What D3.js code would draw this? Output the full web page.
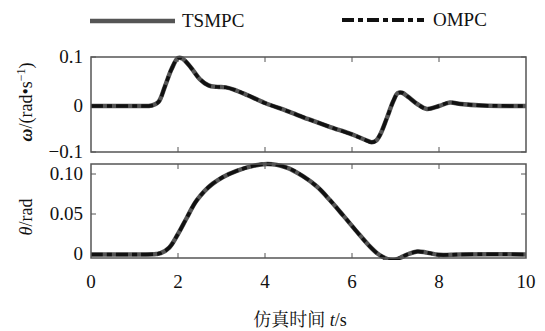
<!DOCTYPE html>
<html>
<head>
<meta charset="utf-8">
<script src="https://cdn.jsdelivr.net/npm/d3@7"></script>
</head>
<body style="margin:0">
<script>
// time axis ticks
var xTicks = [0, 2, 4, 6, 8, 10];

// yaw rate omega (rad/s)
var omegaT = [0, 1.0, 1.4, 1.55, 1.7, 1.85, 2.0, 2.1, 2.3, 2.5, 2.7, 2.9, 3.1, 3.3, 3.6, 4.0, 4.5, 5.0, 5.5, 6.0, 6.3, 6.45, 6.55, 6.65, 6.8, 6.95, 7.05, 7.15, 7.3, 7.5, 7.72, 8.0, 8.25, 8.5, 9.0, 10];
var omegaTSMPC = [0, 0, 0.001, 0.008, 0.04, 0.075, 0.098, 0.097, 0.078, 0.055, 0.042, 0.039, 0.038, 0.033, 0.022, 0.006, -0.01, -0.027, -0.043, -0.058, -0.069, -0.074, -0.071, -0.058, -0.025, 0.01, 0.026, 0.027, 0.018, 0.004, -0.006, 0.0, 0.007, 0.004, 0.001, 0];
var omegaOMPC  = [0, 0, 0.001, 0.008, 0.04, 0.075, 0.098, 0.097, 0.078, 0.055, 0.042, 0.039, 0.038, 0.033, 0.022, 0.006, -0.01, -0.027, -0.043, -0.058, -0.069, -0.074, -0.071, -0.058, -0.025, 0.01, 0.026, 0.027, 0.018, 0.004, -0.006, 0.0, 0.007, 0.004, 0.001, 0];
var omegaTicks = [0.1, 0, -0.1];
var omegaTickLabels = ["0.1", "0", "\u22120.1"];

// angle theta (rad)
var thetaT = [0, 1.5, 1.6, 1.8, 2.0, 2.2, 2.43, 2.8, 3.35, 4.05, 4.5, 4.88, 5.2, 5.49, 5.8, 6.11, 6.4, 6.6, 6.8, 6.95, 7.1, 7.3, 7.5, 7.7, 8.0, 8.5, 10];
var thetaTSMPC = [-0.0005, 0, 0.001, 0.008, 0.025, 0.045, 0.067, 0.088, 0.104, 0.1125, 0.108, 0.097, 0.084, 0.0675, 0.048, 0.028, 0.01, 0.0, -0.006, -0.0075, -0.005, 0.0, 0.003, 0.002, -0.001, -0.0005, -0.0005];
var thetaOMPC  = [-0.0005, 0, 0.001, 0.008, 0.025, 0.045, 0.067, 0.088, 0.104, 0.1125, 0.108, 0.097, 0.084, 0.0675, 0.048, 0.028, 0.01, 0.0, -0.006, -0.0075, -0.005, 0.0, 0.003, 0.002, -0.001, -0.0005, -0.0005];
var thetaTicks = [0.10, 0.05, 0];
var thetaTickLabels = ["0.10", "0.05", "0"];

var W = 545, H = 331;
var left = 91, right = 526;
var serif = "Liberation Serif, Times New Roman, serif";

var svg = d3.select("body").append("svg")
    .attr("width", W)
    .attr("height", H);

var x = d3.scaleLinear().domain([0, 10]).range([left, right]);

var yTop = d3.scaleLinear().domain([-0.094, 0.1]).range([152, 57]);
var yBot = d3.scaleLinear().domain([-0.005, 0.1125]).range([258, 164]);

var frameColor = "#555";

function label(g, x0, y0, size, anchor, txt) {
  return g.append("text")
    .attr("x", x0).attr("y", y0)
    .attr("text-anchor", anchor)
    .attr("font-family", serif)
    .attr("font-size", size)
    .attr("fill", "#111")
    .text(txt);
}

function panel(y, top, bottom, ticks, labels, tsmpc, ompc, ts, clipId) {
  var g = svg.append("g");

  g.append("clipPath").attr("id", clipId)
    .append("rect").attr("x", left).attr("y", top - 3)
    .attr("width", right - left).attr("height", bottom - top + 5);

  // x ticks inside, top and bottom
  [2, 4, 6, 8].forEach(function(t) {
    g.append("line").attr("x1", x(t)).attr("x2", x(t))
      .attr("y1", bottom).attr("y2", bottom - 5)
      .attr("stroke", frameColor);
    g.append("line").attr("x1", x(t)).attr("x2", x(t))
      .attr("y1", top).attr("y2", top + 5)
      .attr("stroke", frameColor);
  });
  // y ticks inside, left and right, with labels
  ticks.forEach(function(v, i) {
    var yy = Math.max(top, Math.min(bottom, y(v)));
    g.append("line").attr("x1", left).attr("x2", left + 5)
      .attr("y1", yy).attr("y2", yy)
      .attr("stroke", frameColor);
    g.append("line").attr("x1", right).attr("x2", right - 5)
      .attr("y1", yy).attr("y2", yy)
      .attr("stroke", frameColor);
    label(g, 83, yy + 6, 19, "end", labels[i]);
  });

  var line = d3.line()
    .x(function(d) { return x(d[0]); })
    .y(function(d) { return y(d[1]); })
    .curve(d3.curveCatmullRom.alpha(0.5));

  var curves = g.append("g").attr("clip-path", "url(#" + clipId + ")");
  curves.append("path")
    .datum(ts.map(function(t, i) { return [t, tsmpc[i]]; }))
    .attr("d", line)
    .attr("fill", "none")
    .attr("stroke", "#555")
    .attr("stroke-width", 4.5);
  curves.append("path")
    .datum(ts.map(function(t, i) { return [t, ompc[i]]; }))
    .attr("d", line)
    .attr("fill", "none")
    .attr("stroke", "#111")
    .attr("stroke-width", 3.5)
    .attr("stroke-dasharray", "12,4,5,4");

  g.append("rect")
    .attr("x", left).attr("y", top)
    .attr("width", right - left).attr("height", bottom - top)
    .attr("fill", "none")
    .attr("stroke", frameColor)
    .attr("stroke-width", 1.5);
}

panel(yTop, 57, 152, omegaTicks, omegaTickLabels, omegaTSMPC, omegaOMPC, omegaT, "c1");
panel(yBot, 164, 258, thetaTicks, thetaTickLabels, thetaTSMPC, thetaOMPC, thetaT, "c2");

// x tick labels
xTicks.forEach(function(t) {
  label(svg, x(t), 288, 19, "middle", t);
});

// x title
var xt = label(svg, 300, 326, 18, "middle", "");
xt.append("tspan").attr("font-family", "Noto Serif CJK SC").text("仿真时间 ");
xt.append("tspan").attr("font-style", "italic").text("t");
xt.append("tspan").text("/s");

// y titles
var yt1 = label(svg, 0, 0, 18, "middle", "")
  .attr("transform", "translate(32,102) rotate(-90)");
yt1.append("tspan").attr("font-style", "italic").attr("font-weight", "bold").text("ω");
yt1.append("tspan").text("/(rad\u2022s");
yt1.append("tspan").attr("dy", "-7").attr("font-size", 12).text("\u22121");
yt1.append("tspan").attr("dy", "7").text(")");

var yt2 = label(svg, 0, 0, 18, "middle", "")
  .attr("transform", "translate(32,217) rotate(-90)");
yt2.append("tspan").attr("font-style", "italic").text("θ");
yt2.append("tspan").text("/rad");

// legend
svg.append("line").attr("x1", 90).attr("x2", 175).attr("y1", 21).attr("y2", 21)
  .attr("stroke", "#555").attr("stroke-width", 4.5);
label(svg, 182, 27, 19, "start", "TSMPC");
svg.append("line").attr("x1", 342).attr("x2", 424).attr("y1", 20).attr("y2", 20)
  .attr("stroke", "#111").attr("stroke-width", 4)
  .attr("stroke-dasharray", "12,4,5,4");
label(svg, 433, 26, 19, "start", "OMPC");
</script>
</body>
</html>
